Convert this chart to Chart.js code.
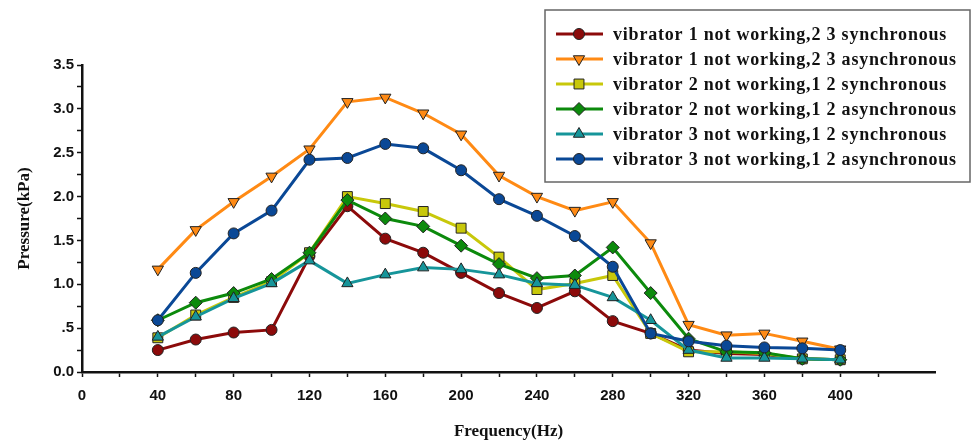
<!DOCTYPE html>
<html>
<head>
<meta charset="utf-8">
<script src="https://cdn.jsdelivr.net/npm/chart.js@4/dist/chart.umd.min.js"></script>
<style>
  html, body { margin: 0; padding: 0; background: #fff; }
  #wrap { width: 973px; height: 442px; }
</style>
</head>
<body>
<div id="wrap"><canvas id="pressureChart" width="973" height="442"></canvas></div>
<script>
// Frequency (Hz) on x, pressure (kPa) on y
const frequency = [40, 60, 80, 100, 120, 140, 160, 180, 200, 220, 240, 260, 280, 300, 320, 340, 360, 380, 400];

const v1Sync = [0.25, 0.37, 0.45, 0.48, 1.32, 1.89, 1.52, 1.36, 1.13, 0.90, 0.73, 0.92, 0.58, 0.44, 0.25, 0.21, 0.20, 0.15, 0.14];
const v1Async = [1.17, 1.62, 1.94, 2.23, 2.54, 3.08, 3.13, 2.95, 2.71, 2.24, 2.00, 1.84, 1.94, 1.47, 0.54, 0.42, 0.44, 0.35, 0.26];
const v2Sync = [0.39, 0.65, 0.85, 1.03, 1.36, 2.00, 1.92, 1.83, 1.64, 1.31, 0.94, 1.01, 1.10, 0.44, 0.23, 0.23, 0.21, 0.15, 0.14];
const v2Async = [0.59, 0.79, 0.90, 1.06, 1.36, 1.96, 1.75, 1.66, 1.44, 1.23, 1.07, 1.10, 1.42, 0.90, 0.38, 0.23, 0.22, 0.15, 0.14];
const v3Sync = [0.40, 0.63, 0.84, 1.01, 1.27, 1.01, 1.11, 1.19, 1.17, 1.11, 1.01, 0.99, 0.85, 0.59, 0.25, 0.16, 0.16, 0.15, 0.14];
const v3Async = [0.59, 1.13, 1.58, 1.84, 2.42, 2.44, 2.60, 2.55, 2.30, 1.97, 1.78, 1.55, 1.20, 0.44, 0.35, 0.30, 0.28, 0.27, 0.25];

const seriesLabels = [
  "vibrator 1 not working,2 3 synchronous",
  "vibrator 1 not working,2 3 asynchronous",
  "vibrator 2 not working,1 2 synchronous",
  "vibrator 2 not working,1 2 asynchronous",
  "vibrator 3 not working,1 2 synchronous",
  "vibrator 3 not working,1 2 asynchronous",
];
const seriesValues = [v1Sync, v1Async, v2Sync, v2Async, v3Sync, v3Async];
const seriesColors = ["#8c0a0a", "#ff8a14", "#c8c80a", "#0c8a0c", "#16959a", "#0a4896"];
const seriesMarkers = ["circle", "triangle", "rect", "rectRot", "triangle", "circle"];
const seriesRotation = [0, 180, 0, 0, 0, 0];
const seriesRadius = [5.5, 6.5, 7, 6.5, 6.5, 5.5];

const yTickLabels = { 0: "0.0", 0.5: ".5", 1: "1.0", 1.5: "1.5", 2: "2.0", 2.5: "2.5", 3: "3.0", 3.5: "3.5" };
const xTickLabels = [0, 40, 80, 120, 160, 200, 240, 280, 320, 360, 400, 440];

const datasets = seriesValues.map((vals, i) => ({
  label: seriesLabels[i],
  data: frequency.map((f, j) => ({ x: f, y: vals[j] })),
  borderColor: seriesColors[i],
  backgroundColor: seriesColors[i],
  pointBackgroundColor: seriesColors[i],
  pointBorderColor: "#222",
  pointBorderWidth: 1,
  pointStyle: seriesMarkers[i],
  pointRotation: seriesRotation[i],
  pointRadius: seriesRadius[i],
  borderWidth: 3,
  showLine: true,
  tension: 0,
  order: 6 - i,
}));

// legend box drawn inside the plot, top right
const boxLegend = {
  id: "boxLegend",
  afterDraw(chart) {
    const c = chart.ctx;
    const x0 = 545, y0 = 10, w = 425, h = 172;
    c.save();
    c.fillStyle = "#fff";
    c.fillRect(x0, y0, w, h);
    c.strokeStyle = "#666";
    c.lineWidth = 1.5;
    c.strokeRect(x0, y0, w, h);
    c.font = "bold 18px 'Liberation Serif', 'Times New Roman', serif";
    c.letterSpacing = "0.8px";
    c.textBaseline = "middle";
    chart.data.datasets.forEach((ds, i) => {
      const y = 34 + i * 25;
      c.strokeStyle = ds.borderColor;
      c.lineWidth = 3;
      c.beginPath();
      c.moveTo(556, y);
      c.lineTo(603, y);
      c.stroke();
      c.fillStyle = ds.pointBackgroundColor;
      c.strokeStyle = ds.pointBorderColor;
      c.lineWidth = 1;
      Chart.helpers.drawPoint(c, { pointStyle: ds.pointStyle, rotation: ds.pointRotation, radius: ds.pointRadius, borderWidth: 1 }, 579, y);
      c.fillStyle = "#111";
      c.fillText(ds.label, 613, y + 1);
    });
    c.restore();
  },
};

const ctx = document.getElementById("pressureChart").getContext("2d");
const pressureChart = new Chart(ctx, {
  type: "scatter",
  data: { datasets: datasets },
  options: {
    responsive: false,
    animation: false,
    layout: { padding: { top: 65, right: 38, left: 0, bottom: 0 } },
    plugins: {
      legend: { display: false },
      tooltip: { enabled: false },
    },
    scales: {
      x: {
        type: "linear",
        min: 0,
        max: 450,
        afterFit: (scale) => { scale.height = 70; },
        afterBuildTicks: (scale) => {
          scale.ticks = scale.ticks.filter((t) => t.value % 20 === 0);
        },
        ticks: {
          stepSize: 20,
          autoSkip: false,
          maxRotation: 0,
          padding: 10,
          color: "#111",
          font: { family: "'Liberation Sans', Arial, sans-serif", size: 15, weight: "bold" },
          callback: (v) => (xTickLabels.includes(v) ? String(v) : ""),
        },
        grid: { drawOnChartArea: false, drawTicks: true, tickLength: 5, color: "#111", tickWidth: 1.5 },
        border: { color: "#111", width: 2.5 },
        title: {
          display: true,
          text: "Frequency(Hz)",
          color: "#111",
          font: { family: "'Liberation Serif', 'Times New Roman', serif", size: 17, weight: "bold" },
          padding: { top: 0, bottom: 0 },
        },
      },
      y: {
        min: 0,
        max: 3.5,
        afterFit: (scale) => { scale.width = 82; },
        ticks: {
          stepSize: 0.25,
          autoSkip: false,
          padding: 3,
          color: "#111",
          font: { family: "'Liberation Sans', Arial, sans-serif", size: 15, weight: "bold" },
          callback: (v) => (yTickLabels[v] !== undefined ? yTickLabels[v] : ""),
        },
        grid: { drawOnChartArea: false, drawTicks: true, tickLength: 5, color: "#111", tickWidth: 1.5 },
        border: { color: "#111", width: 2.5 },
        title: {
          display: true,
          text: "Pressure(kPa)",
          color: "#111",
          font: { family: "'Liberation Serif', 'Times New Roman', serif", size: 17, weight: "bold" },
          padding: { top: 14, bottom: 0 },
        },
      },
    },
  },
  plugins: [boxLegend],
});
</script>
</body>
</html>
